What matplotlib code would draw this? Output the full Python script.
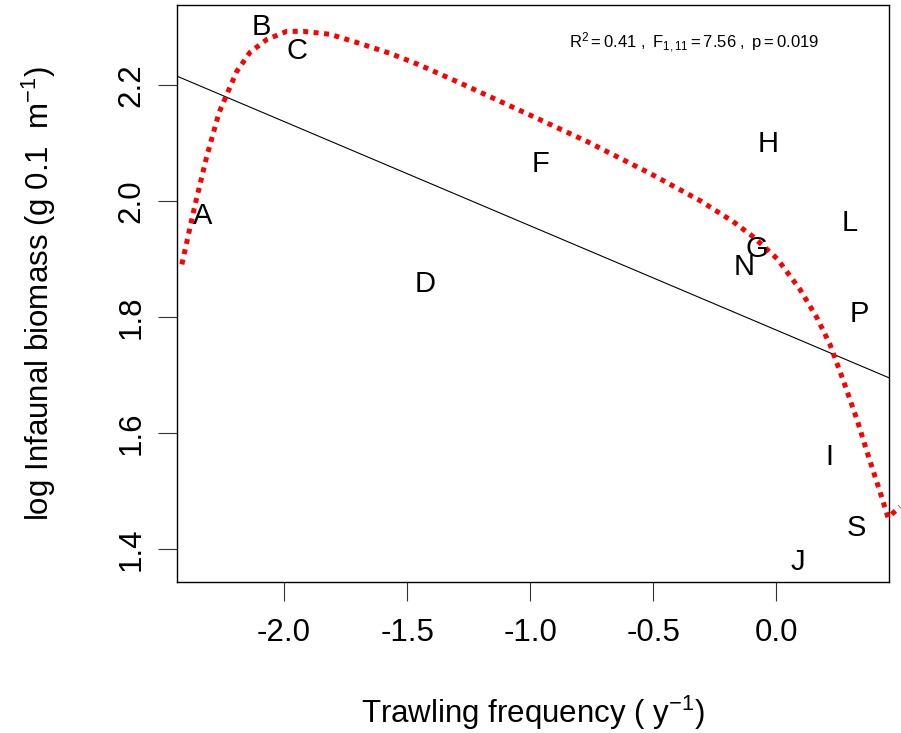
import numpy as np
import matplotlib
matplotlib.use("Agg")
import matplotlib.pyplot as plt

plt.rcParams['font.family'] = ['Liberation Sans', 'DejaVu Sans']
plt.rcParams['mathtext.fontset'] = 'custom'
plt.rcParams['mathtext.rm'] = 'Liberation Sans'
plt.rcParams['mathtext.it'] = 'Liberation Sans:italic'
plt.rcParams['mathtext.bf'] = 'Liberation Sans:bold'

# site labels and their values (letters are plotted at the data points)
sites = ['A', 'B', 'C', 'D', 'F', 'H', 'G', 'N', 'L', 'P', 'I', 'S', 'J']
trawl = [-2.329, -2.093, -1.947, -1.427, -0.956, -0.034, -0.078, -0.131,
         0.299, 0.336, 0.214, 0.327, 0.088]
biomass = [1.975, 2.300, 2.260, 1.858, 2.065, 2.098, 1.918, 1.887,
           1.963, 1.805, 1.558, 1.437, 1.377]

# red dotted smoother
curve_x = [-2.415, -2.363, -2.314, -2.264, -2.192, -2.138, -2.070, -1.989,
           -1.922, -1.813, -1.691, -1.569, -1.455, -1.285, -1.013, -0.769,
           -0.513, -0.310, -0.176, -0.095, 0.003, 0.096, 0.165, 0.218,
           0.271, 0.328, 0.372, 0.421, 0.454, 0.502]
curve_y = [1.891, 1.991, 2.077, 2.153, 2.224, 2.257, 2.279, 2.293,
           2.293, 2.288, 2.272, 2.255, 2.236, 2.204, 2.151, 2.103,
           2.048, 2.001, 1.965, 1.939, 1.901, 1.848, 1.799, 1.753,
           1.692, 1.623, 1.563, 1.499, 1.454, 1.473]

xticks = [-2.0, -1.5, -1.0, -0.5, 0.0]
yticks = [1.4, 1.6, 1.8, 2.0, 2.2]
stats_label = r'$\mathregular{R^2=0.41\ ,\ F_{1,11}=7.56\ ,\ p=0.019}$'

W, H = 901, 733
fig = plt.figure(figsize=(W / 100, H / 100), dpi=100)
# axes box in pixels: x 176.7..888.7, y 5..581.7
ax = fig.add_axes([176.7 / W, 1 - 581.7 / H, (888.7 - 176.7) / W, (581.7 - 5) / H])
ax.set_xlim(-2.436, 0.4566)
ax.set_ylim(1.3436, 2.3385)

# regression line
slope, intercept = np.polyfit(trawl, biomass, 1)
xx = np.array(ax.get_xlim())
ax.plot(xx, intercept + slope * xx, color='black', lw=0.8)

# smoother
ax.plot(curve_x, curve_y, color='red', lw=3.6, linestyle=(0, (1, 1.1)),
        dash_capstyle='butt', clip_on=False, zorder=3)

for lab, x, y in zip(sites, trawl, biomass):
    ax.text(x, y, lab, ha='center', va='center', fontsize=21, zorder=4)

ax.text(0.7265, 0.9254, stats_label, transform=ax.transAxes,
        ha='center', va='baseline', fontsize=12)

ax.set_xticks(xticks)
ax.set_xticklabels([f'{v:.1f}' for v in xticks])
ax.set_yticks(yticks)
ax.set_yticklabels([f'{v:.1f}' for v in yticks], rotation=90, va='center')
ax.tick_params(axis='both', direction='out', length=14, width=0.8,
               labelsize=22.5, color='#333333')
ax.tick_params(axis='x', pad=12)
ax.tick_params(axis='y', pad=8)
for s in ax.spines.values():
    s.set_linewidth(1.0)
    s.set_color('black')

ax.set_xlabel(r'Trawling frequency ( y$\mathregular{^{-1}}$)', fontsize=22.5, labelpad=33)
ax.set_ylabel(r'log Infaunal biomass (g 0.1  m$\mathregular{^{-1}}$)', fontsize=22.5, labelpad=42)

fig.savefig('out.png', dpi=100)
